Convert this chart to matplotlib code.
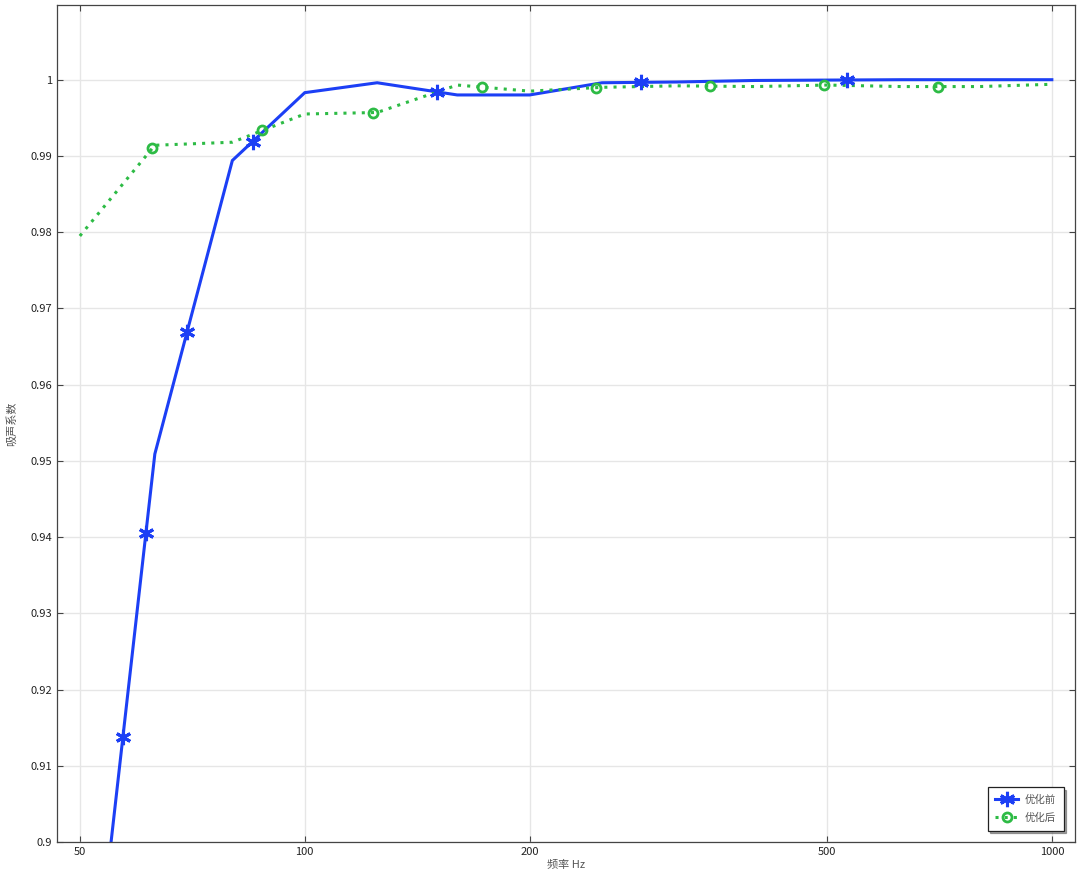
import numpy as np
import matplotlib.pyplot as plt
from matplotlib.ticker import FixedLocator, FuncFormatter, NullLocator

plt.rcParams['font.family'] = ['Noto Sans CJK SC', 'DejaVu Sans']

# 1/3 倍频程中心频率
freq = [50, 63, 80, 100, 125, 160, 200, 250, 315, 400, 500, 630, 800, 1000]
# 吸声系数
before = [0.8637, 0.9509, 0.9894, 0.9983, 0.9996, 0.9980, 0.9980,
          0.9996, 0.9997, 0.9999, 0.99995, 1.0, 1.0, 1.0]
after = [0.9795, 0.9914, 0.9918, 0.9955, 0.9957, 0.9993, 0.9985,
         0.9990, 0.9992, 0.9991, 0.9993, 0.9991, 0.9991, 0.9994]

x_ticks = [50, 100, 200, 500, 1000]
y_ticks = [0.9, 0.91, 0.92, 0.93, 0.94, 0.95, 0.96, 0.97, 0.98, 0.99, 1.0]

blue = '#1c3ff5'
green = '#2dbb45'

fig = plt.figure(figsize=(10.8, 8.75), dpi=100)
ax = fig.add_axes([57/1080, 1 - 842/875, (1075 - 57)/1080, (842 - 5)/875])
ax.set_xscale('log')
ax.set_xlim(46.6, 1074)
ax.set_ylim(0.9, 1.0098)


def markers_along(x, y, start, step):
    # marcadores espaciados a igual distancia visual a lo largo de la curva
    pts = ax.transData.transform(np.column_stack([x, y]))
    seg = np.hypot(*np.diff(pts, axis=0).T)
    cum = np.concatenate([[0], np.cumsum(seg)])
    diag = np.hypot(ax.bbox.width, ax.bbox.height)
    d = np.arange(start * diag, cum[-1] - 5, step * diag)
    px = np.interp(d, cum, pts[:, 0])
    py = np.interp(d, cum, pts[:, 1])
    data = ax.transData.inverted().transform(np.column_stack([px, py]))
    keep = data[:, 1] >= 0.9
    return data[keep, 0], data[keep, 1]


l1, = ax.plot(freq, before, color=blue, lw=2.2, solid_joinstyle='miter')
l2, = ax.plot(freq, after, color=green, lw=2.2, linestyle=(0, (1, 2)))

mx, my = markers_along(freq, before, 0.2915, 0.1558)
m1, = ax.plot(mx, my, linestyle='none', marker=(6, 2, 0), ms=11, mew=2.2, color=blue)
gx, gy = markers_along(freq, after, 0.0863, 0.0864)
m2, = ax.plot(gx, gy, linestyle='none', marker='o', ms=6.5, mew=2, mfc='none', mec=green)

ax.xaxis.set_major_locator(FixedLocator(x_ticks))
ax.xaxis.set_major_formatter(FuncFormatter(lambda v, p: f'{v:g}'))
ax.xaxis.set_minor_locator(NullLocator())
ax.yaxis.set_major_locator(FixedLocator(y_ticks))
ax.yaxis.set_major_formatter(FuncFormatter(lambda v, p: f'{v:g}'))

ax.grid(True, color='#e6e6e6', lw=1)
ax.set_axisbelow(True)
ax.tick_params(direction='in', top=True, right=True, length=4, width=0.8,
               color='#444444', labelsize=8, labelcolor='#222222')
for s in ax.spines.values():
    s.set_color('#444444')
    s.set_linewidth(0.9)

ax.set_xlabel('频率 Hz', fontsize=8, color='#555555', labelpad=2)
ax.set_ylabel('吸声系数', fontsize=8, color='#555555', labelpad=10)

leg = ax.legend([(l1, m1), (l2, m2)], ['优化前', '优化后'], loc='lower right',
                fontsize=7.5, frameon=True, fancybox=False, shadow=True,
                edgecolor='#222222', framealpha=1, handlelength=2.2,
                borderpad=0.75, labelspacing=0.75, handletextpad=0.6,
                borderaxespad=1.1, labelcolor='#555555')
leg.get_frame().set_linewidth(0.9)

fig.savefig('out.png', dpi=100)
